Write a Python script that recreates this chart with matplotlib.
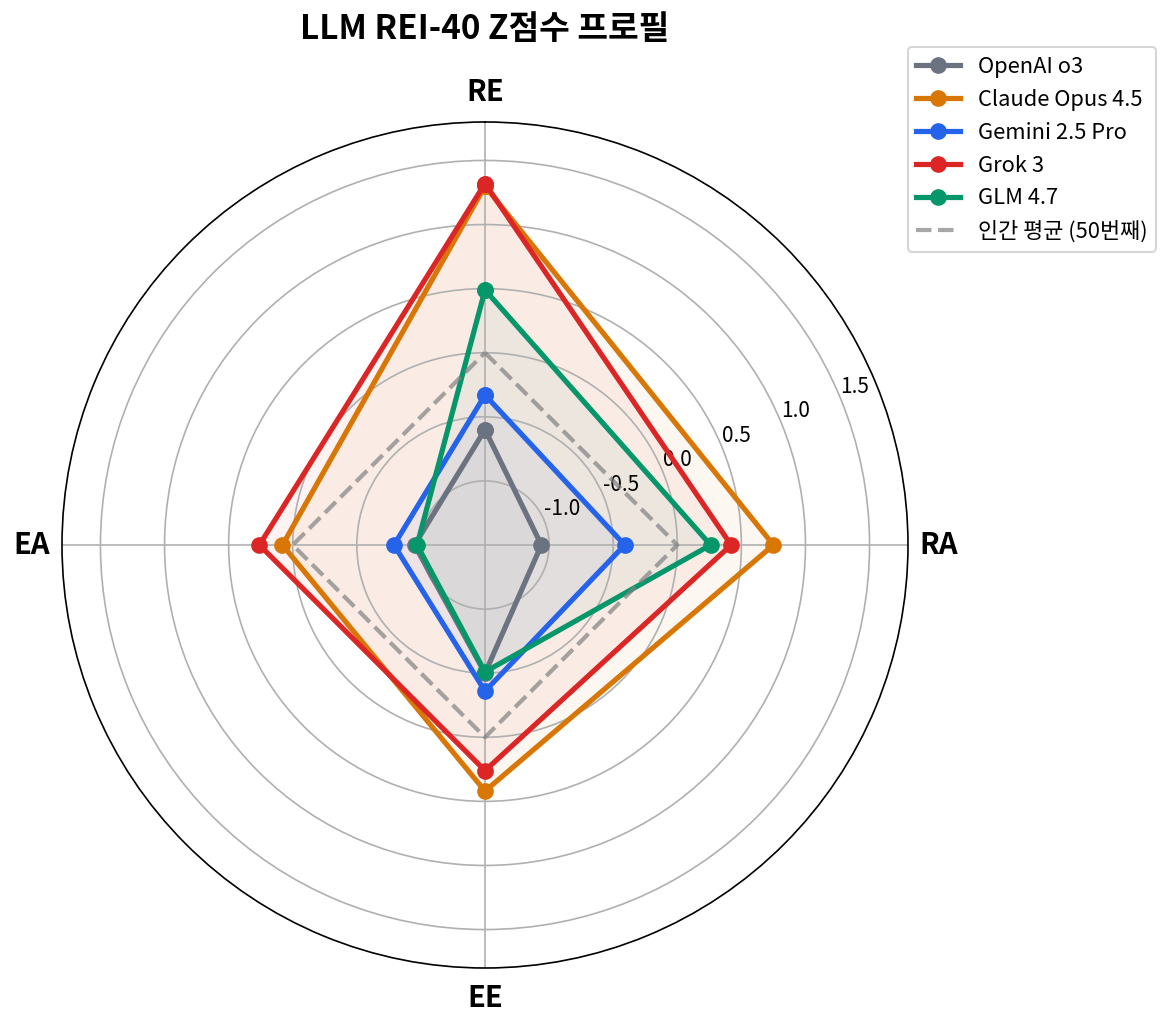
import numpy as np
import matplotlib
matplotlib.use('Agg')
import matplotlib.pyplot as plt

plt.rcParams['font.family'] = ['Noto Sans CJK KR', 'DejaVu Sans']
plt.rcParams['axes.unicode_minus'] = False

# ---- data ----
dims = ['RE', 'RA', 'EE', 'EA']
models = ['OpenAI o3', 'Claude Opus 4.5', 'Gemini 2.5 Pro', 'Grok 3', 'GLM 4.7']
colors = ['#6B7280', '#D97706', '#2563EB', '#DC2626', '#059669']

openai_o3 = [-0.60, -1.06, -0.50, -0.95]
claude_opus = [1.30, 0.75, 0.42, 0.08]
gemini_pro = [-0.33, -0.41, -0.36, -0.79]
grok_3 = [1.32, 0.42, 0.26, 0.26]
glm_47 = [0.49, 0.26, -0.51, -0.97]
human_avg = [0.0, 0.0, 0.0, 0.0]

series = [openai_o3, claude_opus, gemini_pro, grok_3, glm_47]
r_ticks = [-1.0, -0.5, 0.0, 0.5, 1.0, 1.5]

# ---- angles (clockwise from top) ----
angles = np.linspace(0, 2 * np.pi, len(dims), endpoint=False)
closed = np.append(angles, angles[0])

fig = plt.figure(figsize=(1168 / 150, 1027 / 150), dpi=150)
ax = fig.add_axes([62 / 1168, 59 / 1027, 846 / 1168, 846 / 1027], projection='polar')
ax.set_theta_offset(np.pi / 2)
ax.set_theta_direction(-1)

for name, vals, c in zip(models, series, colors):
    v = np.append(vals, vals[0])
    ax.plot(closed, v, color=c, linewidth=2.5, marker='o', markersize=7, label=name)
    ax.fill(closed, v, color=c, alpha=0.055)

h = np.append(human_avg, human_avg[0])
ax.plot(closed, h, color='gray', linestyle='--', linewidth=2, alpha=0.7,
        label='인간 평균 (50번째)')

ax.set_ylim(-1.5, 1.8)
ax.set_yticks(r_ticks)
ax.set_yticklabels([f'{t:.1f}' for t in r_ticks], fontsize=10)
ax.set_rlabel_position(67.5)
ax.set_xticks(angles)
ax.set_xticklabels(dims, fontsize=14, fontweight='bold')
ax.tick_params(axis='x', pad=4)

ax.set_title('LLM REI-40 Z점수 프로필', fontsize=16, fontweight='bold', y=1.098, pad=0)
ax.legend(loc='upper right', bbox_to_anchor=(1156 / 1168, 1 - 47 / 1027),
          bbox_transform=fig.transFigure, borderaxespad=0, fontsize=10.5)

fig.savefig('out.png', dpi=150)
